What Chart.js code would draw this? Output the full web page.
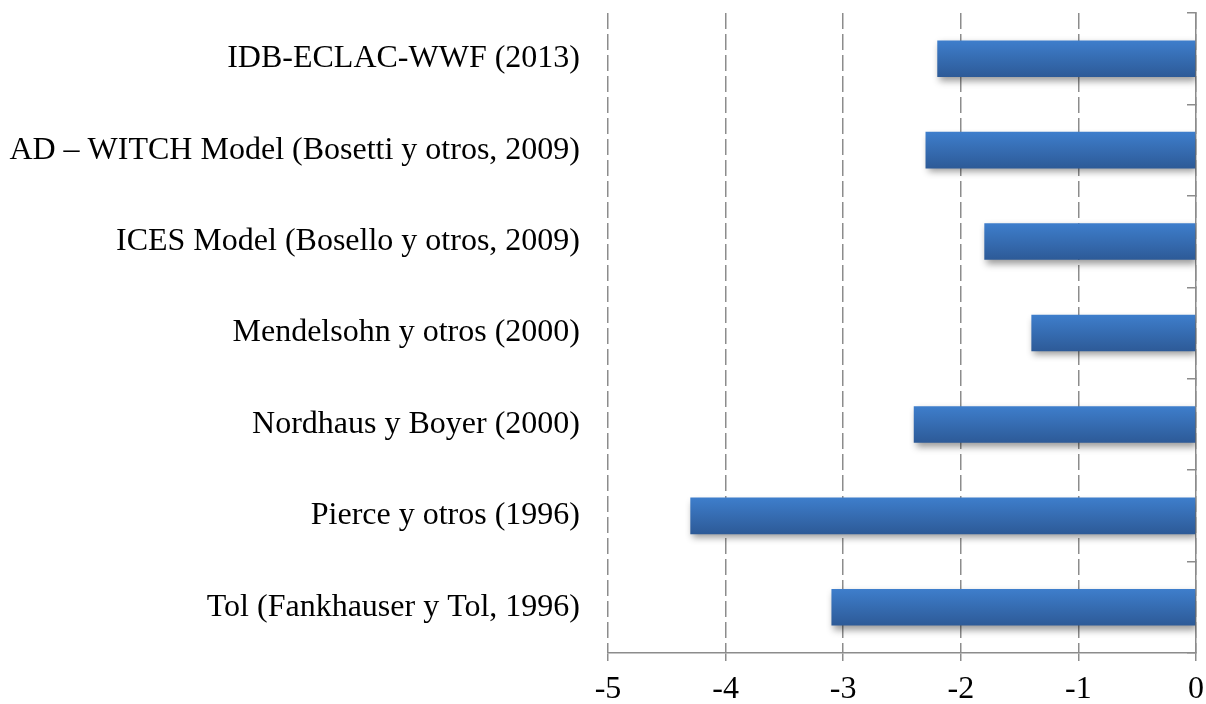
<!DOCTYPE html>
<html>
<head>
<meta charset="utf-8">
<script src="https://cdn.jsdelivr.net/npm/chart.js@4/dist/chart.umd.min.js"></script>
<style>
  html, body { margin: 0; padding: 0; background: #fff; }
  #wrap { width: 1206px; height: 704px; }
</style>
</head>
<body>
<div id="wrap"><canvas id="myChart"></canvas></div>
<script>
const categorias = [
  'IDB-ECLAC-WWF (2013)',
  'AD \u2013 WITCH Model (Bosetti y otros, 2009)',
  'ICES Model (Bosello y otros, 2009)',
  'Mendelsohn y otros (2000)',
  'Nordhaus y Boyer (2000)',
  'Pierce y otros (1996)',
  'Tol (Fankhauser y Tol, 1996)'
];
const valores = [-2.2, -2.3, -1.8, -1.4, -2.4, -4.3, -3.1];
const ejeMin = -5;
const ejeMax = 0;
const paso = 1;

const gris = '#8c8c8c';
const fuente = { family: '"Liberation Serif", "Times New Roman", serif', size: 32 };
const anchoBarra = 0.4;

// degradado vertical para cada barra, calculado con la escala y
function colorBarra(context) {
  const chart = context.chart;
  const esc = chart.scales && chart.scales.y;
  if (!chart.chartArea || !esc || context.dataIndex === undefined) return '#3670b8';
  const centro = esc.getPixelForValue(context.dataIndex);
  const banda = esc.height / categorias.length;
  const top = centro - banda * anchoBarra / 2;
  const bottom = centro + banda * anchoBarra / 2;
  if (!isFinite(top) || !isFinite(bottom) || top === bottom) return '#3670b8';
  const g = chart.ctx.createLinearGradient(0, top, 0, bottom);
  g.addColorStop(0, '#3e7ecc');
  g.addColorStop(1, '#2d5a97');
  return g;
}

const sombra = {
  id: 'sombra',
  beforeDatasetsDraw(chart) {
    const ctx = chart.ctx;
    ctx.save();
    ctx.shadowColor = 'rgba(0,0,0,0.4)';
    ctx.shadowBlur = 7;
    ctx.shadowOffsetX = 2;
    ctx.shadowOffsetY = 4;
  },
  afterDatasetsDraw(chart) {
    chart.ctx.restore();
  }
};

const ctx = document.getElementById('myChart');
new Chart(ctx, {
  type: 'bar',
  data: {
    labels: categorias,
    datasets: [{
      data: valores,
      backgroundColor: colorBarra,
      borderWidth: 0,
      categoryPercentage: 1,
      barPercentage: anchoBarra
    }]
  },
  plugins: [sombra],
  options: {
    indexAxis: 'y',
    responsive: true,
    maintainAspectRatio: false,
    animation: false,
    layout: { padding: { left: 0, right: 10, top: 13, bottom: 0 } },
    plugins: {
      legend: { display: false },
      tooltip: { enabled: false }
    },
    scales: {
      x: {
        min: ejeMin,
        max: ejeMax,
        ticks: { stepSize: paso, color: '#000', font: fuente, padding: 9, maxRotation: 0 },
        grid: { color: gris, lineWidth: 1.5, tickLength: 8, tickColor: gris, tickBorderDash: [] },
        border: { display: true, color: gris, width: 1.5, dash: [16, 5] },
        afterFit(s) {
          s.height = 51;
          s.paddingLeft = 0;
          s.paddingRight = 0;
        }
      },
      y: {
        position: 'left',
        ticks: { color: '#000', font: fuente, padding: 28 },
        grid: { display: false, drawTicks: false },
        border: { display: false },
        afterFit(s) {
          s.width = 608;
          s.paddingTop = 0;
          s.paddingBottom = 0;
        }
      },
      y2: {
        type: 'category',
        position: 'right',
        labels: categorias,
        offset: true,
        ticks: { display: false },
        grid: { offset: true, drawOnChartArea: false, tickLength: -9, color: gris, lineWidth: 1.5 },
        border: { display: true, color: gris, width: 1.5 },
        afterFit(s) {
          s.width = 0;
        }
      }
    }
  }
});
</script>
</body>
</html>
